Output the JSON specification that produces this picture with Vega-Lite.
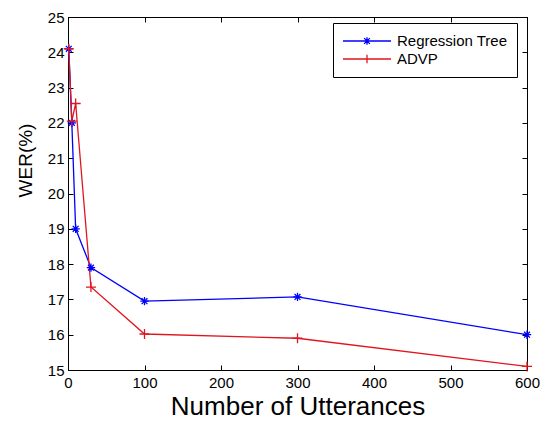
{
  "$schema": "https://vega.github.io/schema/vega-lite/v6.json",
  "width": 459,
  "height": 353,
  "autosize": {"type": "none"},
  "padding": {"left": 68, "top": 17, "right": 15, "bottom": 51},
  "background": "white",
  "config": {
    "font": "Liberation Sans",
    "view": {"stroke": "black", "strokeWidth": 1},
    "axis": {
      "labelFont": "Liberation Sans",
      "labelFontSize": 15,
      "labelColor": "black",
      "labelFlush": false,
      "domainColor": "black",
      "tickColor": "black",
      "tickSize": -5,
      "grid": false,
      "titleFont": "Liberation Sans",
      "titleColor": "black",
      "titleFontWeight": "normal"
    }
  },
  "data": {
    "values": [
      {"series": "Regression Tree", "x": 1, "y": 24.1},
      {"series": "Regression Tree", "x": 5, "y": 22.0},
      {"series": "Regression Tree", "x": 10, "y": 19.0},
      {"series": "Regression Tree", "x": 30, "y": 17.9},
      {"series": "Regression Tree", "x": 100, "y": 16.95},
      {"series": "Regression Tree", "x": 300, "y": 17.07},
      {"series": "Regression Tree", "x": 600, "y": 16.0},
      {"series": "ADVP", "x": 1, "y": 24.1},
      {"series": "ADVP", "x": 5, "y": 22.05},
      {"series": "ADVP", "x": 10, "y": 22.55},
      {"series": "ADVP", "x": 30, "y": 17.35},
      {"series": "ADVP", "x": 100, "y": 16.02},
      {"series": "ADVP", "x": 300, "y": 15.9},
      {"series": "ADVP", "x": 600, "y": 15.1}
    ]
  },
  "resolve": {"axis": {"x": "independent", "y": "independent"}},
  "layer": [
    {
      "mark": {"type": "line", "strokeWidth": 1.3, "clip": true},
      "encoding": {
        "x": {
          "field": "x", "type": "quantitative",
          "scale": {"domain": [0, 600], "nice": false, "zero": false},
          "axis": {"orient": "bottom", "values": [0, 100, 200, 300, 400, 500, 600], "title": "Number of Utterances", "titleFontSize": 26, "titlePadding": 3, "labelPadding": 10}
        },
        "y": {
          "field": "y", "type": "quantitative",
          "scale": {"domain": [15, 25], "nice": false, "zero": false},
          "axis": {"orient": "left", "values": [15, 16, 17, 18, 19, 20, 21, 22, 23, 24, 25], "title": "WER(%)", "titleFontSize": 19, "titleX": -33, "titleY": 143, "titleBaseline": "bottom", "titleAngle": 270, "titleAlign": "center", "labelPadding": 9}
        },
        "color": {
          "field": "series", "type": "nominal",
          "scale": {"domain": ["Regression Tree", "ADVP"], "range": ["#0000ff", "#e0161e"]},
          "legend": {
            "title": null,
            "orient": "none",
            "legendX": 265,
            "legendY": 6,
            "strokeColor": "black",
            "fillColor": "white",
            "padding": 9,
            "symbolSize": 2304,
            "symbolStrokeWidth": 1.3,
            "symbolType": "M-1,0L1,0",
            "clipHeight": 18,
            "labelOffset": 5,
            "rowPadding": 0,
            "labelFont": "Liberation Sans",
            "labelFontSize": 15,
            "labelColor": "black",
            "encode": {
              "symbols": {
                "update": {
                  "shape": {"signal": "datum.value === 'ADVP' ? 'M-1,0L1,0M0,-0.18L0,0.18M-0.18,0L0.18,0' : 'M-1,0L1,0M0,-0.16L0,0.16M-0.12,-0.12L0.12,0.12M-0.12,0.12L0.12,-0.12'"},
                  "fill": {"value": "transparent"}
                }
              }
            }
          }
        }
      }
    },
    {
      "transform": [{"filter": "datum.series === 'Regression Tree'"}],
      "mark": {"type": "point", "shape": "M-1,0L1,0M0,-1L0,1M-0.7,-0.7L0.7,0.7M-0.7,0.7L0.7,-0.7", "filled": false, "color": "#0000ff", "size": 70, "strokeWidth": 1.3, "opacity": 1},
      "encoding": {
        "x": {"field": "x", "type": "quantitative", "scale": {"domain": [0, 600], "nice": false, "zero": false}, "axis": {"orient": "top", "values": [0, 100, 200, 300, 400, 500, 600], "labels": false, "title": null}},
        "y": {"field": "y", "type": "quantitative", "scale": {"domain": [15, 25], "nice": false, "zero": false}, "axis": {"orient": "right", "values": [15, 16, 17, 18, 19, 20, 21, 22, 23, 24, 25], "labels": false, "title": null}}
      }
    },
    {
      "transform": [{"filter": "datum.series === 'ADVP'"}],
      "mark": {"type": "point", "shape": "M-1,0L1,0M0,-1L0,1", "filled": false, "color": "#e0161e", "size": 100, "strokeWidth": 1.3, "opacity": 1},
      "encoding": {
        "x": {"field": "x", "type": "quantitative", "scale": {"domain": [0, 600], "nice": false, "zero": false}, "axis": null},
        "y": {"field": "y", "type": "quantitative", "scale": {"domain": [15, 25], "nice": false, "zero": false}, "axis": null}
      }
    }
  ]
}
